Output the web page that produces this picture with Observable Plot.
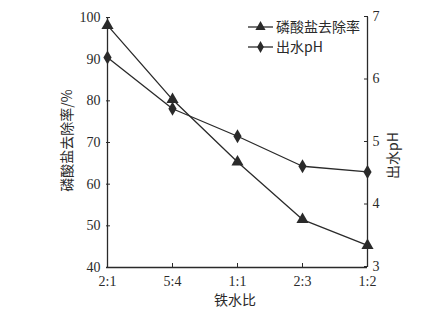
<!DOCTYPE html>
<html><head><meta charset="utf-8">
<script src="https://cdn.jsdelivr.net/npm/d3@7"></script>
<script src="https://cdn.jsdelivr.net/npm/@observablehq/plot@0.6"></script>
<style>
body{margin:0;background:#fff;}
#chart{width:421px;height:316px;}
</style></head><body><div id="chart"></div>
<script>
const ratios = ["2:1","5:4","1:1","2:3","1:2"];
const removal = [98.1, 80.3, 65.3, 51.5, 45.3];
const ph = [6.36, 5.54, 5.10, 4.62, 4.53];
const leftTicks = [40,50,60,70,80,90,100];
const rightTicks = [3,4,5,6,7];
const seriesNames = ["磷酸盐去除率","出水pH"];

// map pH (3..7) onto left scale (40..100)
const phToY = v => 40 + (v - 3) * 15;

const rowsR = ratios.map((r,i)=>({r, v: removal[i]}));
const rowsP = ratios.map((r,i)=>({r, v: phToY(ph[i])}));

const ink = "#2a2a2a";
const serif = "'Liberation Serif','DejaVu Serif',serif";
const cjk = "'Noto Sans CJK SC','Liberation Serif',sans-serif";

const plot = Plot.plot({
  width: 421, height: 316,
  marginLeft: 106, marginRight: 54, marginTop: 17, marginBottom: 49,
  style: {fontFamily: serif, fontSize: "14px", color: ink, background: "#fff"},
  x: {type: "point", domain: ratios, padding: 0},
  y: {domain: [40, 100]},
  marks: [
    Plot.ruleX([ratios[0], ratios[ratios.length-1]], {stroke: ink, strokeWidth: 1.3}),
    Plot.ruleY([40], {stroke: ink, strokeWidth: 1.3}),
    Plot.axisY({anchor: "left", ticks: leftTicks, tickSize: -4, tickPadding: 10, stroke: ink, label: null, fontSize: 14, fill: ink}),
    Plot.axisY({anchor: "right", ticks: rightTicks.map(phToY), tickFormat: (d) => String(Math.round((d-40)/15+3)), tickSize: -4, tickPadding: 9, label: null, fontSize: 14, fill: ink, dy: -1}),
    Plot.axisX({anchor: "bottom", tickSize: -4, tickPadding: 13, label: null, fontSize: 14, fill: ink}),
    Plot.line(rowsR, {x: "r", y: "v", stroke: ink, strokeWidth: 1.3}),
    Plot.line(rowsP, {x: "r", y: "v", stroke: ink, strokeWidth: 1.3}),
    Plot.dot(rowsR, {x: "r", y: "v", symbol: "triangle", r: 4.5, fill: ink}),
    Plot.dot(rowsP, {x: "r", y: "v", symbol: "diamond", r: 4.3, fill: ink}),
    Plot.text(["磷酸盐去除率/%"], {frameAnchor: "left", textAnchor: "middle", dx: -39, dy: -2, rotate: -90, fontFamily: cjk, fontSize: 14, fill: ink}),
    Plot.text(["出水pH"], {frameAnchor: "right", textAnchor: "middle", dx: 26, dy: 13, rotate: -90, fontFamily: cjk, fontSize: 14, fill: ink}),
    Plot.text(["铁水比"], {frameAnchor: "bottom", dx: -2, dy: 37, fontFamily: cjk, fontSize: 14, fill: ink})
  ]
});

// legend
const svg = d3.select(plot);
const sym = [d3.symbolTriangle, d3.symbolDiamond];
const lg = svg.append("g").attr("transform","translate(248,27)");
seriesNames.forEach((name,i)=>{
  const g = lg.append("g").attr("transform",`translate(0,${i*20})`);
  g.append("line").attr("x1",0).attr("x2",25).attr("y1",0).attr("y2",0).attr("stroke",ink).attr("stroke-width",1.3);
  g.append("path").attr("d", d3.symbol(sym[i], i===0?45:40)()).attr("transform","translate(12.5,0)").attr("fill",ink);
  g.append("text").attr("x",28).attr("y",0).attr("dy","0.35em").attr("text-anchor","start").attr("font-family",cjk).attr("font-size",14).attr("fill",ink).text(name);
});
document.getElementById("chart").appendChild(plot);
</script></body></html>
